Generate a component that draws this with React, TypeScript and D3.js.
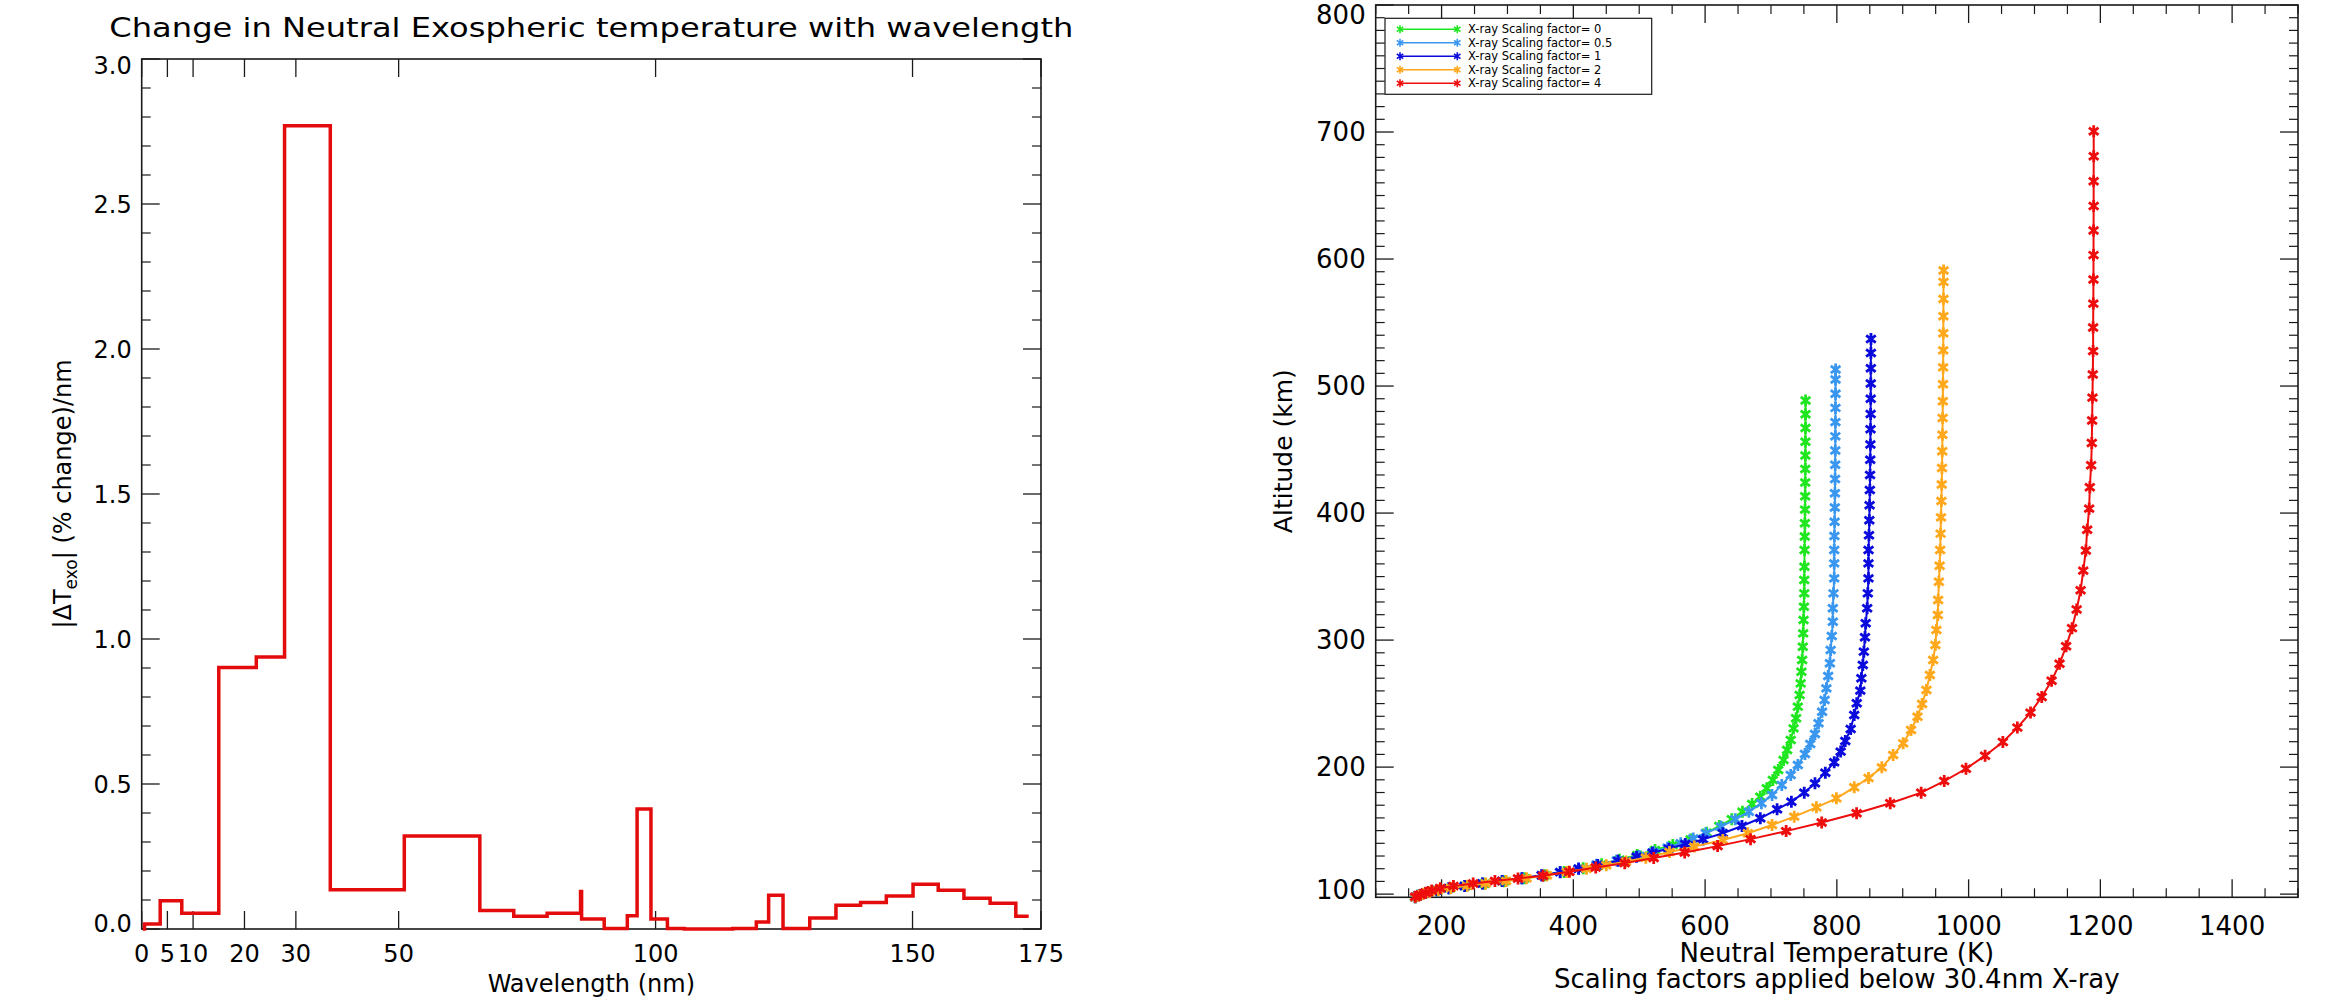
import React from 'react';
import * as d3 from 'd3';

// ---------- Left panel data ----------
const waveEdges = [0.2, 0.55, 3.6, 7.8, 15.0, 22.3, 27.8, 36.7, 51.1, 65.8, 72.4, 78.9, 85.4, 85.6, 90.0, 94.5, 96.4, 99.1, 102.3, 105.6, 115.0, 119.6, 122.0, 124.8, 130.0, 135.1, 139.9, 144.9, 150.1, 155.0, 160.0, 165.1, 170.1, 172.6];
const dTexo = [0.0, 0.017, 0.097, 0.054, 0.902, 0.938, 2.77, 0.135, 0.321, 0.064, 0.044, 0.054, 0.129, 0.0345, 0.002, 0.046, 0.414, 0.0345, 0.002, 0.0, 0.002, 0.024, 0.116, 0.002, 0.038, 0.082, 0.091, 0.114, 0.154, 0.134, 0.106, 0.089, 0.044];
const waveTicks = [0, 5, 10, 20, 30, 50, 100, 150, 175];
const waveTickLabels = ['0', '5', '10', '20', '30', '50', '100', '150', '175'];
const dTMajor = [0, 0.5, 1.0, 1.5, 2.0, 2.5, 3.0];

// ---------- Right panel data ([temperature K, altitude km]) ----------
const seriesNames = ['X-ray Scaling factor= 0', 'X-ray Scaling factor= 0.5', 'X-ray Scaling factor= 1', 'X-ray Scaling factor= 2', 'X-ray Scaling factor= 4'];
const seriesColors = ['#1fe61f', '#3a97ef', '#0a0adc', '#ffa81c', '#ee0d0d'];

const greenProfile = [[160,97.6],[164,98.7],[171,100.1],[180,101.6],[193,103.1],[212,104.7],[237,106.4],[265,108.2],[295,110.2],[326,112.4],[357,114.8],[386,117.4],[415,120.3],[443,123.5],[470,127.0],[497,130.8],[524,134.7],[551,138.7],[578,143.1],[602.5,148.4],[621.5,153.6],[640.5,158.9],[656.7,164.9],[671.4,170.9],[683.8,176.7],[693.6,183.3],[702.8,189.8],[711,197.7],[719.1,205.6],[724.5,213.5],[730,221.3],[734.3,230.5],[738.1,238.4],[740.8,247.6],[743.5,256.8],[745.1,265.9],[746.2,275.1],[747.3,284.3],[748.3,294.8],[748.9,305.3],[749.4,315.8],[750,326.3],[750.5,336.8],[750.5,347.3],[750.8,357.8],[751,370.9],[751.3,381.5],[751.5,392],[751.7,402.7],[751.9,413.3],[752,424],[752.1,434.7],[752.2,445.4],[752.3,456.2],[752.4,467],[752.4,477.8],[752.5,488.6]];
const lightBlueProfile = [[160,97.6],[164,98.7],[171,100.1],[180,101.6],[193,103.1],[211,104.7],[235,106.4],[262,108.3],[292,110.3],[322,112.5],[352,114.9],[380,117.4],[408,120.2],[435,123.2],[466,126.5],[500,130.0],[522,133.2],[543,136.5],[563,140.0],[582,143.8],[601,147.9],[624.2,153.1],[645.9,158.9],[666.5,164.9],[685.5,171.5],[701.7,178.0],[716.4,185.9],[730,193.8],[740.8,201.7],[751.6,210.3],[759.7,218.2],[766.8,226.1],[772.2,234.5],[777.6,243.6],[781.4,252.8],[784.1,262.0],[786.8,271.7],[789.5,281.7],[790.6,292.2],[792.3,303.2],[793.9,314.5],[793.9,325.0],[794.9,336.8],[796,348.6],[796,360.4],[796,370.9],[796.3,382],[796.6,393.2],[796.9,404.4],[797.1,415.6],[797.3,426.8],[797.5,438],[797.6,449.2],[797.7,460.4],[797.8,471.6],[797.9,482.8],[798,494],[798,505.2],[798.1,513]];
const blueProfile = [[160,97.6],[164,98.7],[171,100.1],[180,101.6],[193,103.1],[211,104.7],[235,106.4],[262,108.3],[292,110.3],[322,112.4],[352,114.8],[380,117.3],[408,120.0],[437,123.0],[468,126.2],[496,129.5],[520,132.6],[545,135.8],[570,139.5],[597,143.1],[626.9,147.9],[656,153.6],[683.8,159.7],[709.3,166.8],[731,172.8],[750.5,179.9],[766.8,187.2],[782.5,195.6],[796,203.8],[805.8,212.2],[812.8,220.5],[821,230],[826.4,241],[830.2,250.2],[835.6,260.2],[837.2,269.9],[839.4,280.4],[841,290.9],[842.7,302.2],[843.8,313.2],[846,325],[847,336.8],[848,348.6],[848,360.4],[848.1,370.9],[848.8,382.5],[849.3,394.3],[849.7,406.2],[850.1,418.1],[850.4,430],[850.7,442],[850.9,454],[851.1,466],[851.3,478],[851.4,490],[851.5,502],[851.6,514],[851.7,526],[851.8,537]];
const orangeProfile = [[160,97.6],[165,98.8],[172,100.2],[182,101.7],[195,103.2],[214,104.8],[239,106.5],[267,108.4],[298,110.4],[329,112.5],[360,114.9],[390,117.4],[420,120.0],[450,122.8],[480,125.7],[510,128.7],[546,133.2],[583.5,137.4],[626.9,142.6],[664.9,147.9],[701.7,154.4],[735.3,161],[769,168.3],[799.3,175.4],[826.4,184.1],[848.1,191.4],[868.2,199.8],[885.5,209.5],[900.7,218.7],[912.6,229.2],[922.4,239.7],[929.4,249.7],[935.9,260.7],[941.3,272.5],[946.2,284.3],[949.5,296.1],[951.1,307.9],[953.3,319.7],[953.8,331.5],[954.9,346],[956,358.5],[956.8,371],[957.5,383.8],[958.1,396.6],[958.7,409.5],[959.2,422.5],[959.6,435.5],[960,448.6],[960.3,461.7],[960.6,474.9],[960.9,488.1],[961.1,501.4],[961.3,514.7],[961.5,528.1],[961.6,541.5],[961.7,555],[961.8,568.5],[961.9,582],[962,591]];
const redProfile = [[160,98.0],[168,99.5],[176,101.0],[185,102.8],[198,104.6],[218,106.4],[248,108.4],[281,110.3],[316,112.3],[354,114.5],[394,117.6],[434,120.9],[478,124.4],[522,128.4],[569,132.8],[619,137.8],[669,143.3],[723,149.6],[777,156.4],[830,163.7],[881,171.5],[928,179.9],[963,189],[996,198.7],[1025,209],[1052,219.8],[1074,231.1],[1094,242.9],[1111,255.2],[1126,268],[1138,281.3],[1148,295.1],[1157,309.4],[1164,324.1],[1170,339.2],[1174,354.7],[1178,370.6],[1180,386.9],[1183,403.5],[1184,420.4],[1186,437.6],[1187,455.1],[1187.5,472.9],[1188,490.9],[1188.5,509.1],[1189,527.5],[1189,546.1],[1189.3,564.9],[1189.5,583.9],[1189.6,603.1],[1189.7,622.4],[1189.8,641.8],[1189.8,661.3],[1189.9,680.9],[1189.9,700.6]];
const profiles = [greenProfile, lightBlueProfile, blueProfile, orangeProfile, redProfile];

const tempMajor = [200, 400, 600, 800, 1000, 1200, 1400];
const altMajor = [100, 200, 300, 400, 500, 600, 700, 800];

const FONT = '"DejaVu Sans", sans-serif';
const AXIS = '#1a1a1a';

function asterisk(r: number) {
  const a = r * 0.8, b = r * 0.6;
  return `M0,${-r}L0,${r}M${-a},${-b}L${a},${b}M${-a},${b}L${a},${-b}`;
}

export default function App() {
  const W = 2336, H = 1005;

  // Left panel
  const L = { x0: 141.7, x1: 1041, y0: 59, y1: 929 };
  const xL = d3.scaleLinear().domain([0, 175]).range([L.x0, L.x1]);
  const yL = d3.scaleLinear().domain([0, 3]).range([L.y1, L.y0]);
  const stepPts: [number, number][] = waveEdges.map((e, i) => [e, dTexo[Math.min(i, dTexo.length - 1)]]);
  const stepLine = d3.line<[number, number]>().x(d => xL(d[0])).y(d => yL(d[1])).curve(d3.curveStepAfter);
  const yMinorL = d3.range(0, 31).map(i => i / 10).filter(v => Math.abs(v * 2 - Math.round(v * 2)) > 1e-6);

  // Right panel
  const R = { x0: 1375.7, x1: 2298, y0: 5, y1: 897.3 };
  const xR = d3.scaleLinear().domain([100, 1500]).range([R.x0, R.x1]);
  const yR = d3.scaleLinear().domain([97.5, 800]).range([R.y1, R.y0]);
  const profLine = d3.line<number[]>().x(d => xR(d[0])).y(d => yR(d[1]));
  const xMinorR = d3.range(100, 1501, 50).filter(v => v % 200 !== 0);
  const yMinorR = d3.range(100, 801, 10).filter(v => v % 100 !== 0);

  const star = asterisk(6);

  return (
    <svg width={W} height={H} style={{ position: 'absolute', left: 0, top: 0, background: '#fff' }} fontFamily={FONT}>
      <rect x={0} y={0} width={W} height={H} fill="#fff" />
      {/* ===== Left panel ===== */}
      <text x={(L.x0 + L.x1) / 2} y={37} fontSize={27} textAnchor="middle" textLength={964} lengthAdjust="spacingAndGlyphs" fill="#000">
        Change in Neutral Exospheric temperature with wavelength
      </text>
      <rect x={L.x0} y={L.y0} width={L.x1 - L.x0} height={L.y1 - L.y0} fill="none" stroke={AXIS} strokeWidth={1.6} />
      {waveTicks.map((t, i) => (
        <g key={'wt' + i}>
          <line x1={xL(t)} x2={xL(t)} y1={L.y1} y2={L.y1 - 18} stroke={AXIS} strokeWidth={1.3} />
          <line x1={xL(t)} x2={xL(t)} y1={L.y0} y2={L.y0 + 18} stroke={AXIS} strokeWidth={1.3} />
          <text x={xL(t)} y={962} fontSize={24} textAnchor="middle" fill="#000">{waveTickLabels[i]}</text>
        </g>
      ))}
      {dTMajor.map((v, i) => (
        <g key={'dm' + i}>
          <line x1={L.x0} x2={L.x0 + 18} y1={yL(v)} y2={yL(v)} stroke={AXIS} strokeWidth={1.3} />
          <line x1={L.x1} x2={L.x1 - 18} y1={yL(v)} y2={yL(v)} stroke={AXIS} strokeWidth={1.3} />
          <text x={L.x0 - 10} y={yL(v) + (i === 0 ? -6 : i === dTMajor.length - 1 ? 6 : 0)} dy="0.36em" fontSize={24} textAnchor="end" fill="#000">{d3.format('.1f')(v)}</text>
        </g>
      ))}
      {yMinorL.map((v, i) => (
        <g key={'dn' + i}>
          <line x1={L.x0} x2={L.x0 + 9} y1={yL(v)} y2={yL(v)} stroke={AXIS} strokeWidth={1.2} />
          <line x1={L.x1} x2={L.x1 - 9} y1={yL(v)} y2={yL(v)} stroke={AXIS} strokeWidth={1.2} />
        </g>
      ))}
      <path d={stepLine(stepPts) || ''} fill="none" stroke="#e30b0b" strokeWidth={3.5} strokeLinejoin="miter" />
      <text x={(L.x0 + L.x1) / 2} y={992} fontSize={24} textAnchor="middle" fill="#000">Wavelength (nm)</text>
      <text transform={`translate(62,${(L.y0 + L.y1) / 2}) rotate(-90)`} fontSize={24} textAnchor="middle" dy="0.36em" fill="#000">
        |ΔT<tspan fontSize={17} dy="6">exo</tspan><tspan dy="-6">| (% change)/nm</tspan>
      </text>

      {/* ===== Right panel ===== */}
      <rect x={R.x0} y={R.y0} width={R.x1 - R.x0} height={R.y1 - R.y0} fill="none" stroke={AXIS} strokeWidth={1.6} />
      {tempMajor.map((t, i) => (
        <g key={'tm' + i}>
          <line x1={xR(t)} x2={xR(t)} y1={R.y1} y2={R.y1 - 18} stroke={AXIS} strokeWidth={1.3} />
          <line x1={xR(t)} x2={xR(t)} y1={R.y0} y2={R.y0 + 18} stroke={AXIS} strokeWidth={1.3} />
          <text x={xR(t)} y={935} fontSize={26} textAnchor="middle" fill="#000">{t}</text>
        </g>
      ))}
      {xMinorR.map((t, i) => (
        <g key={'tn' + i}>
          <line x1={xR(t)} x2={xR(t)} y1={R.y1} y2={R.y1 - 9} stroke={AXIS} strokeWidth={1.2} />
          <line x1={xR(t)} x2={xR(t)} y1={R.y0} y2={R.y0 + 9} stroke={AXIS} strokeWidth={1.2} />
        </g>
      ))}
      {altMajor.map((a, i) => (
        <g key={'am' + i}>
          <line x1={R.x0} x2={R.x0 + 18} y1={yR(a)} y2={yR(a)} stroke={AXIS} strokeWidth={1.3} />
          <line x1={R.x1} x2={R.x1 - 18} y1={yR(a)} y2={yR(a)} stroke={AXIS} strokeWidth={1.3} />
          <text x={R.x0 - 10} y={yR(a) + (i === 0 ? -4 : i === altMajor.length - 1 ? 10 : 0)} dy="0.36em" fontSize={26} textAnchor="end" fill="#000">{a}</text>
        </g>
      ))}
      {yMinorR.map((a, i) => (
        <g key={'an' + i}>
          <line x1={R.x0} x2={R.x0 + 9} y1={yR(a)} y2={yR(a)} stroke={AXIS} strokeWidth={1.2} />
          <line x1={R.x1} x2={R.x1 - 9} y1={yR(a)} y2={yR(a)} stroke={AXIS} strokeWidth={1.2} />
        </g>
      ))}
      {profiles.map((p, si) => (
        <g key={'s' + si}>
          <path d={profLine(p) || ''} fill="none" stroke={seriesColors[si]} strokeWidth={2} />
          {p.map((d, j) => (
            <path key={j} d={star} transform={`translate(${xR(d[0])},${yR(d[1])})`} stroke={seriesColors[si]} strokeWidth={2.8} fill="none" />
          ))}
        </g>
      ))}
      {/* legend */}
      <rect x={1385} y={18.3} width={266.7} height={76} fill="#fff" stroke={AXIS} strokeWidth={1.2} />
      {seriesNames.map((n, i) => {
        const y = 29.3 + i * 13.5;
        return (
          <g key={'lg' + i}>
            <line x1={1400} x2={1457.3} y1={y} y2={y} stroke={seriesColors[i]} strokeWidth={1.5} />
            <path d={asterisk(4)} transform={`translate(1400,${y})`} stroke={seriesColors[i]} strokeWidth={1.6} fill="none" />
            <path d={asterisk(4)} transform={`translate(1457.3,${y})`} stroke={seriesColors[i]} strokeWidth={1.6} fill="none" />
            <text x={1468} y={y} dy="0.36em" fontSize={11.5} fill="#000">{n}</text>
          </g>
        );
      })}
      <text x={(R.x0 + R.x1) / 2} y={962} fontSize={26} textAnchor="middle" fill="#000">Neutral Temperature (K)</text>
      <text x={(R.x0 + R.x1) / 2} y={988} fontSize={26} textAnchor="middle" fill="#000">Scaling factors applied below 30.4nm X-ray</text>
      <text transform={`translate(1283,${(R.y0 + R.y1) / 2}) rotate(-90)`} fontSize={25} textAnchor="middle" dy="0.36em" fill="#000">Altitude (km)</text>
    </svg>
  );
}
